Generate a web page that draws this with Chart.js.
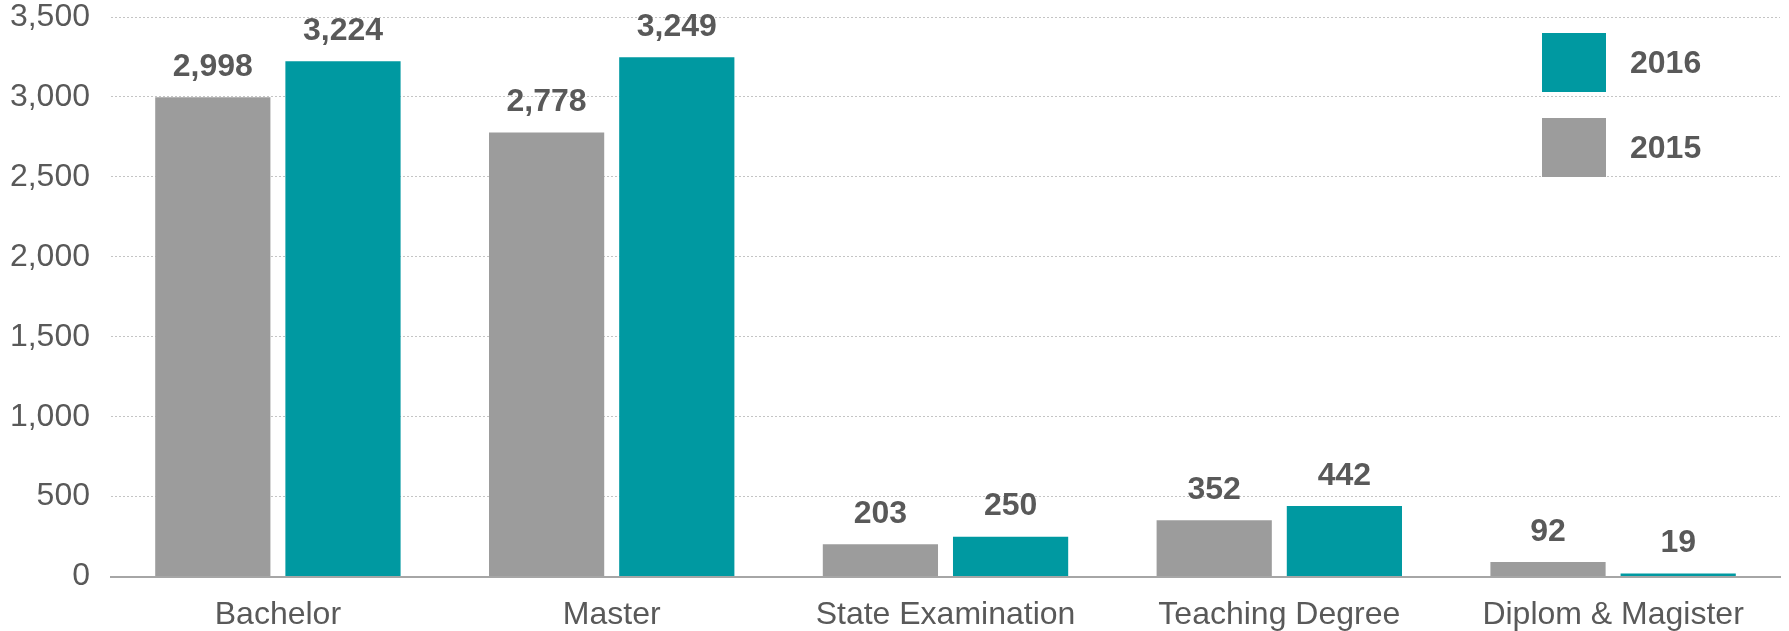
<!DOCTYPE html>
<html>
<head>
<meta charset="utf-8">
<script src="https://cdn.jsdelivr.net/npm/chart.js@4.4.1/dist/chart.umd.min.js"></script>
<style>
  html, body { margin: 0; padding: 0; background: #fff; }
  #wrap { position: relative; width: 1789px; height: 631px; }
</style>
</head>
<body>
<div id="wrap"><canvas id="c"></canvas></div>
<script>
const categories = ['Bachelor', 'Master', 'State Examination', 'Teaching Degree', 'Diplom & Magister'];
const values2015 = [2998, 2778, 203, 352, 92];
const values2016 = [3224, 3249, 250, 442, 19];
const yTicks = [0, 500, 1000, 1500, 2000, 2500, 3000, 3500];

const GRAY = '#9c9c9c';
const TEAL = '#0099a1';
const TEXT = '#595959';
const FONT = 'Liberation Sans, Arial, sans-serif';

// value labels above each bar
const barLabels = {
    id: 'barLabels',
    afterDatasetsDraw(chart) {
        const ctx = chart.ctx;
        ctx.save();
        ctx.font = 'bold 32px ' + FONT;
        ctx.fillStyle = TEXT;
        ctx.textAlign = 'center';
        ctx.textBaseline = 'bottom';
        chart.data.datasets.forEach((ds, i) => {
            chart.getDatasetMeta(i).data.forEach((bar, j) => {
                ctx.fillText(ds.data[j].toLocaleString('en-US'), bar.x, bar.y - 14);
            });
        });
        ctx.restore();
    }
};

// legend: 2016 on top, 2015 below, boxes on the left
const boxLegend = {
    id: 'boxLegend',
    afterDraw(chart) {
        const ctx = chart.ctx;
        const area = chart.chartArea;
        const x = area.right - 238;
        const items = [
            { text: '2016', color: TEAL, top: area.top + 16 },
            { text: '2015', color: GRAY, top: area.top + 101 }
        ];
        ctx.save();
        ctx.font = 'bold 32px ' + FONT;
        ctx.textBaseline = 'middle';
        ctx.textAlign = 'left';
        items.forEach(it => {
            ctx.fillStyle = it.color;
            ctx.fillRect(x, it.top, 64, 59);
            ctx.fillStyle = TEXT;
            ctx.fillText(it.text, x + 88, it.top + 31);
        });
        ctx.restore();
    }
};

new Chart(document.getElementById('c'), {
    type: 'bar',
    data: {
        labels: categories,
        datasets: [
            { label: '2015', data: values2015, backgroundColor: GRAY },
            { label: '2016', data: values2016, backgroundColor: TEAL }
        ]
    },
    options: {
        responsive: true,
        maintainAspectRatio: false,
        animation: false,
        categoryPercentage: 0.78,
        barPercentage: 0.885,
        layout: { padding: { top: 17, right: 9, left: 0, bottom: -14 } },
        plugins: {
            legend: { display: false },
            tooltip: { enabled: false }
        },
        scales: {
            x: {
                grid: { display: false },
                border: { display: true, color: '#a6a6a6', width: 2 },
                ticks: {
                    color: TEXT,
                    padding: 11,
                    maxRotation: 0,
                    font: { family: FONT, size: 32 }
                }
            },
            y: {
                min: 0,
                max: 3500,
                afterBuildTicks(axis) {
                    axis.ticks = yTicks.map(v => ({ value: v }));
                },
                afterFit(axis) {
                    // fixed axis width, top label may sit above the plot edge
                    axis.width = 111;
                    axis.paddingTop = 0;
                },
                border: { display: false, dash: [2, 2] },
                grid: {
                    color: c => c.tick.value === 0 ? 'rgba(0,0,0,0)' : '#c4c4c4',
                    lineWidth: 1,
                    drawTicks: false
                },
                ticks: {
                    color: TEXT,
                    padding: 21,
                    font: { family: FONT, size: 32 },
                    callback: v => v.toLocaleString('en-US')
                }
            }
        }
    },
    plugins: [barLabels, boxLegend]
});
</script>
</body>
</html>
